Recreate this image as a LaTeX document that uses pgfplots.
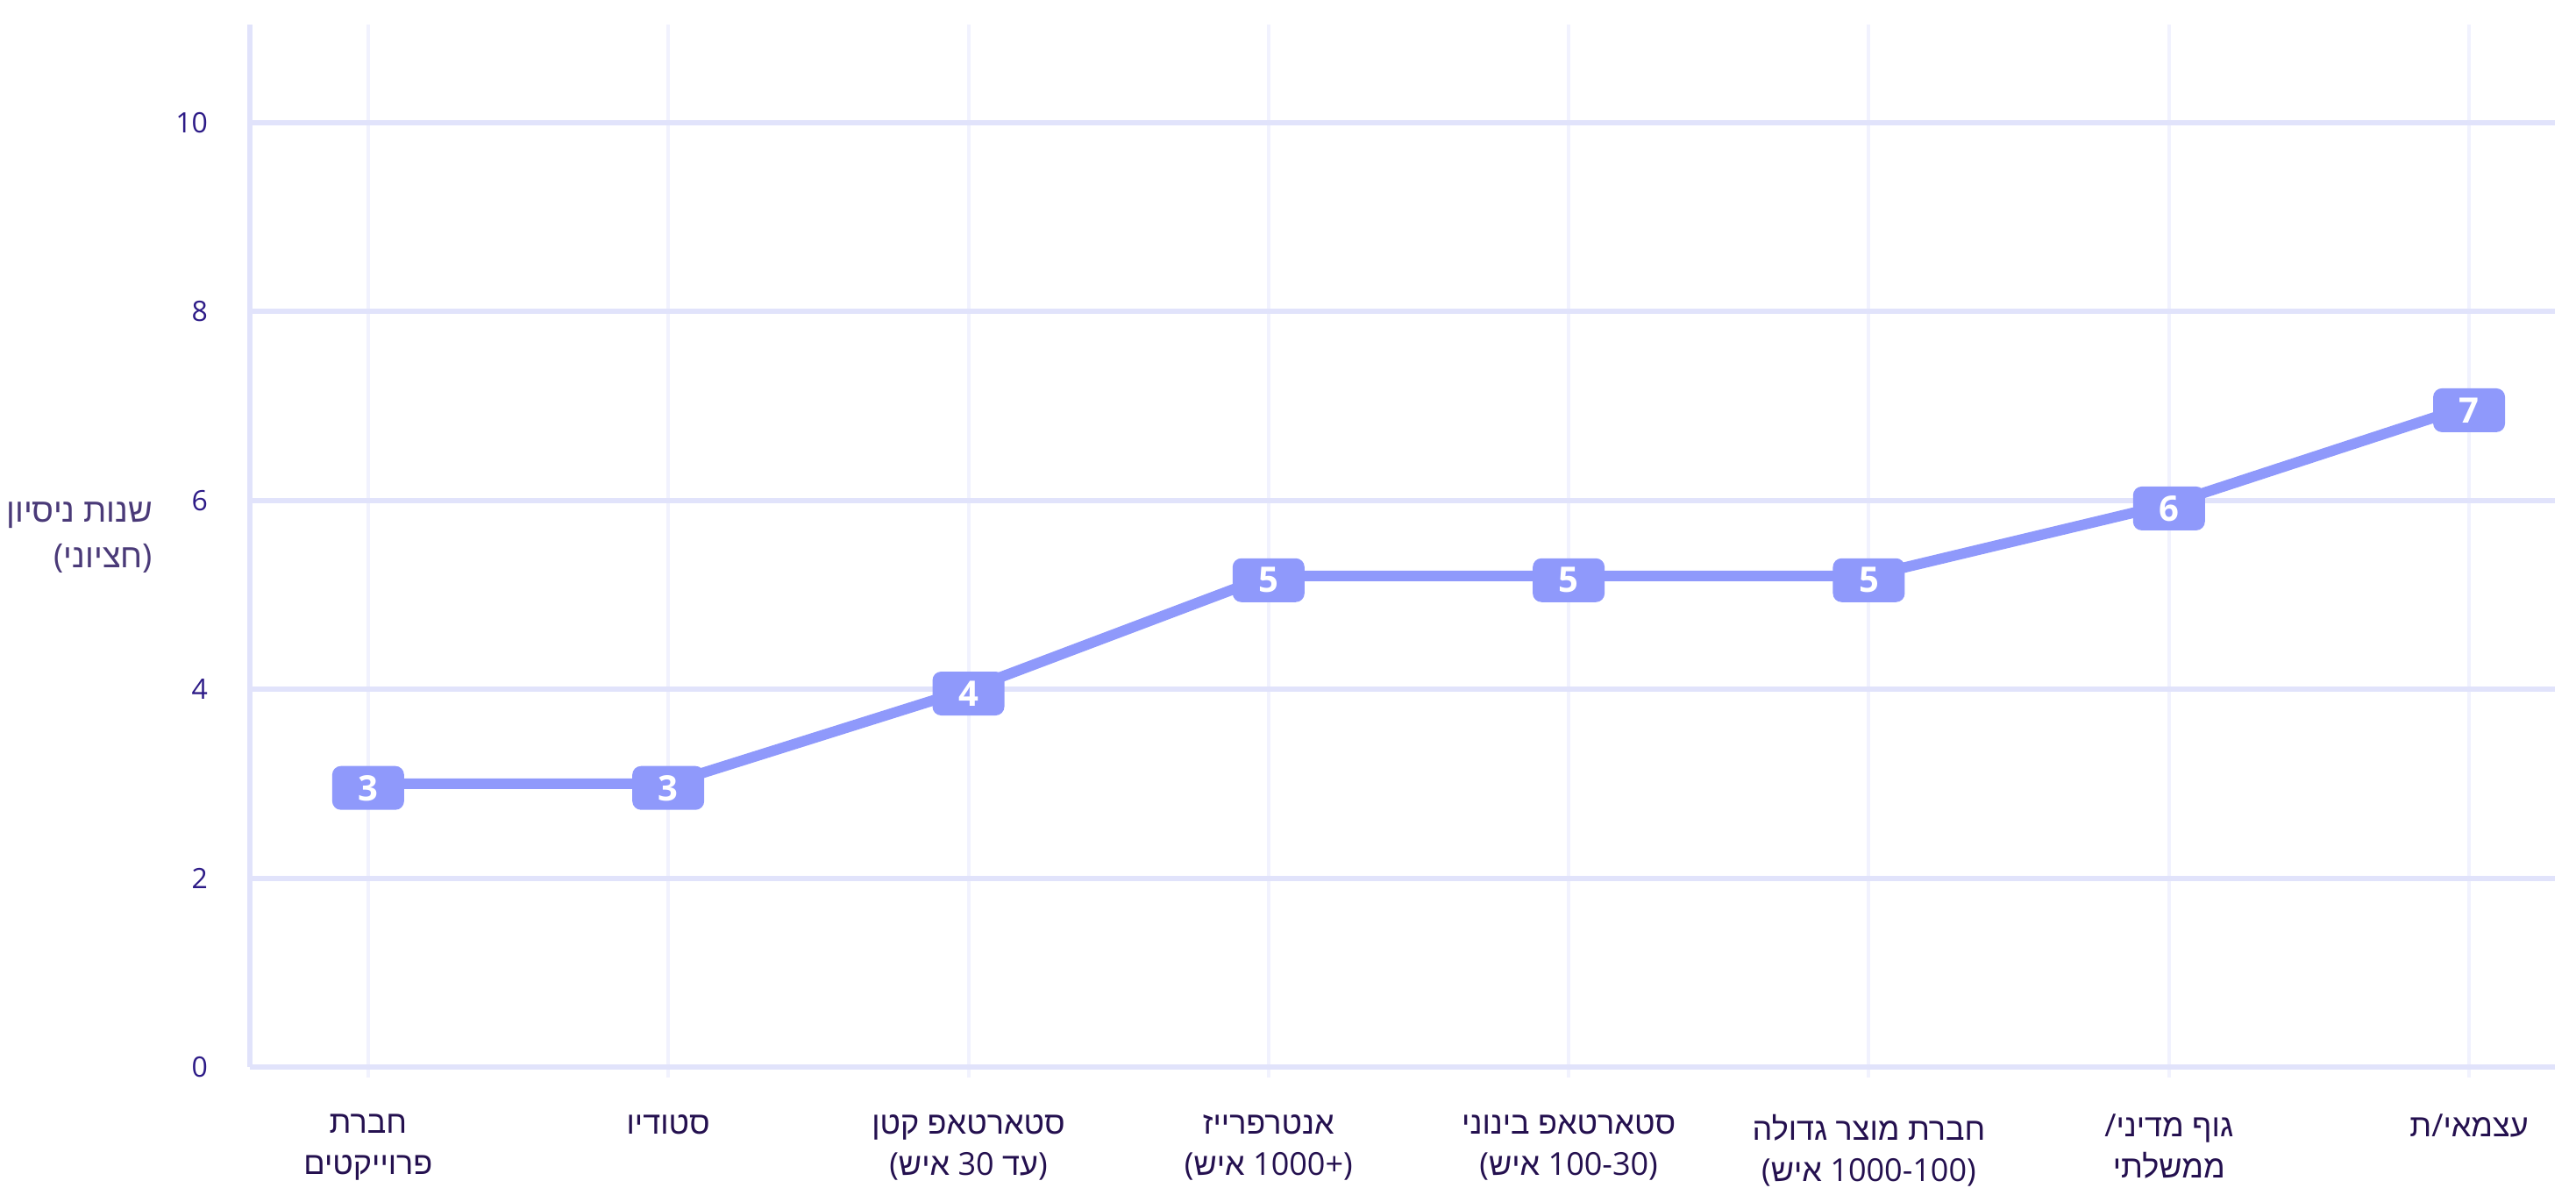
\documentclass[border=0pt]{standalone}
\usepackage{fontspec}
\usepackage{pgfplots}
\pgfplotsset{compat=1.18}
\setmainfont{Open Sans}
\newfontfamily\hebfont[Script=Hebrew]{Liberation Sans}
\newcommand\hb[1]{{\hebfont #1}}
\definecolor{linec}{HTML}{8F99FB}
\definecolor{gridh}{HTML}{E1E3FB}
\definecolor{gridv}{HTML}{F1F2FE}
\definecolor{tickc}{HTML}{2D1B87}
\definecolor{xlabc}{HTML}{24104F}
\definecolor{ylabc}{HTML}{4A3A78}
\begin{document}
\begin{tikzpicture}
\begin{axis}[
  scale only axis, width=657.25pt, height=297.25pt,
  xmin=-0.394, xmax=7.286, ymin=0, ymax=11.04,
  axis x line=bottom, axis y line=left,
  axis line style={-, draw=gridh, line width=1.7pt},
  xtick={0,...,7}, ytick={0,2,...,10},
  xticklabels={
    {\hb{חברת}\\\hb{פרוייקטים}},
    {\hb{סטודיו}},
    {\hb{קטן} \hb{סטארטאפ}\\(\hb{איש} 30 \hb{עד})},
    {\hb{אנטרפרייז}\\(\hb{איש} 1000+)},
    {\hb{בינוני} \hb{סטארטאפ}\\(\hb{איש} 100-30)},
    {\hb{גדולה} \hb{מוצר} \hb{חברת}\\(\hb{איש} 1000-100)},
    {/\hb{מדיני} \hb{גוף}\\\hb{ממשלתי}},
    {\hb{ת}/\hb{עצמאי}}
  },
  xmajorgrids, ymajorgrids,
  major x grid style={draw=gridv, line width=1pt},
  major y grid style={draw=gridh, line width=1.5pt},
  tick align=center, major tick length=6pt,
  xtick style={draw=gridv, line width=1pt},
  ytick style={draw=none},
  /pgf/number format/assume math mode=true,
  yticklabel style={font=\fontsize{8}{9}\selectfont, text=tickc, xshift=-5.5pt},
  xticklabel style={font=\fontsize{9}{11.75}\selectfont, text=xlabc, align=center, anchor=north, yshift=-7pt},
  clip=false,
]
\addplot[linec, line width=3pt, mark=none, nodes near coords, point meta=explicit symbolic,
  every node near coord/.append style={anchor=center, fill=linec, text=white,
    font=\bfseries\fontsize{10}{12}\selectfont, rounded corners=2.5pt,
    minimum width=20.5pt, minimum height=12.5pt, inner sep=0pt, yshift=-1.2pt}]
  table[meta=lab] {
x y lab
0 3 3
1 3 3
2 4 4
3 5.2 5
4 5.2 5
5 5.2 5
6 5.96 6
7 7 7
};
\end{axis}
\node[anchor=east, align=right, inner sep=0pt, font=\fontsize{9.5}{13}\selectfont, text=ylabc] at (-27.5pt,151pt)
  {\hb{ניסיון} \hb{שנות}\\(\hb{חציוני})};
\pgfresetboundingbox
\path (-71.25pt,-34.25pt) rectangle (663.25pt,304.25pt);
\end{tikzpicture}
\end{document}
